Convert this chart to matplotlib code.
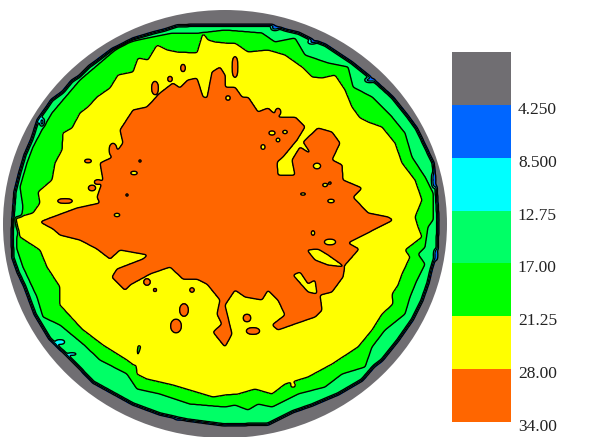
import numpy as np
import matplotlib
matplotlib.use("Agg")
import matplotlib.pyplot as plt
from matplotlib.patches import Ellipse
from matplotlib.path import Path
from matplotlib.transforms import ScaledTranslation

# Contour-level labels and band colours (low to high)
tick_labels = ["4.250", "8.500", "12.75", "17.00", "21.25", "28.00", "34.00"]
band_colors = ["#706e72", "#0066ff", "#00ffff", "#00ff66", "#00ff00", "#ffff00", "#ff6600"]

# Contour boundaries (x, y in image coordinates)
wafer_edge = [(13,218),(15,192),(20,172),(25,155),(32,139),(38,120),(48,106),(52,100),(63,92),(72,81),(80,76),(90,66),
              (97,61),(113,49),(120,46),(133,39),(153,33),(165,30),(177,26),(200,25),(225,25),(272,25),(285,30),(298,33),
              (312,40),(325,45),(340,55),(352,63),(372,79),(392,97),(408,117),(416,128),(422,140),(433,163),(436,187),
              (438,220),(437,250),(431,270),(428,283),(422,300),(412,320),(398,340),(382,360),(374,366),(362,380),
              (338,394),(326,399),(312,405),(292,412),(268,424),(225,425),(187,420),(160,414),(133,404),
              (113,393),(93,382),(73,361),(50,339),(35,314),(25,287),(18,272),(13,258),(12,237)]
green_edge = [(23,207),(20,187),(27,163),(33,147),(42,130),(52,113),(63,100),(80,80),(100,63),(123,43),(153,37),
              (173,33),(200,33),(225,30),(262,33),(275,42),(295,38),(305,55),(328,63),(348,67),(353,87),(372,97),
              (392,117),(405,133),(412,157),(425,177),(433,193),(433,220),(428,227),(425,247),(418,254),(425,264),
              (417,280),(410,297),(405,314),(385,330),(372,347),(365,367),(342,374),(325,387),(298,394),(272,407),
              (258,404),(248,410),(235,405),(225,407),(190,404),(160,394),(137,389),(127,374),(100,360),(83,344),
              (60,325),(43,317),(37,297),(23,267),(17,249),(17,237),(20,227)]
yellow_edge = [(15,218),(33,213),(40,203),(38,192),(52,180),(55,163),(62,150),(63,133),(72,128),(80,113),(88,107),
               (97,97),(110,88),(118,75),(133,72),(138,58),(148,60),(157,45),(167,50),(177,52),(197,53),(203,33),
               (208,40),(215,42),(225,43),(235,43),(248,52),(268,50),(285,55),(302,67),(312,77),(322,78),(335,75),
               (345,90),(352,107),(360,118),(368,122),(382,127),(395,143),(402,163),(415,180),(422,200),(415,217),
               (418,227),(422,237),(405,250),(410,257),(402,274),(398,285),(392,294),(393,304),(382,314),(372,330),
               (358,347),(332,364),(308,377),(285,384),(272,394),(255,389),(238,394),(225,395),(213,397),(173,385),
               (147,379),(137,374),(136,363),(138,345),(141,346),(135,366),(127,360),(103,345),(82,329),(60,305),
               (60,287),(47,267),(40,250),(20,237),(17,227)]
orange_edge = [(50,218),(77,208),(100,203),(97,197),(103,180),(100,163),(113,157),(123,143),(120,130),(133,110),
               (147,107),(160,93),(173,83),(180,88),(188,80),(197,78),(203,97),(207,98),(212,72),(220,67),(225,75),
               (225,87),(235,87),(242,97),(248,97),(258,112),(268,108),(278,117),(295,117),(305,127),(297,140),
               (283,157),(277,162),(278,175),(295,175),(292,160),(300,147),(312,155),(303,142),(318,128),(332,132),
               (340,143),(332,160),(342,165),(343,180),(362,188),(353,197),(368,213),(388,217),(393,220),(348,243),
               (359,249),(345,265),(343,277),(332,292),(320,295),(322,310),(315,317),(292,325),(278,330),(272,325),
               (285,315),(278,300),(268,290),(262,300),(245,297),(235,290),(225,305),(232,334),(225,347),(213,332),
               (222,324),(217,314),(220,300),(207,284),(197,279),(183,279),(170,267),(150,274),(130,285),(125,290),
               (112,277),(117,269),(143,259),(148,255),(120,250),(110,259),(97,249),(80,240),(60,235),(53,229),(40,222)]
yellow_bay_a = [(307,250),(318,249),(328,255),(345,267),(328,265),(315,260)]
yellow_bay_b = [(293,275),(300,272),(308,284),(325,274),(315,280),(317,294),(308,292)]
yellow_bays = [yellow_bay_a, yellow_bay_b]

# Small closed contours: (x, y, half-width, half-height)
orange_spots = [(155,88,3.5,7),(183,68,2.5,4),(170,79,2.5,3),(193,83,4,3),(113,150,4,7),(88,161,4,2),(98,182,4,2.5),
                (92,188,4,3),(65,201,8,2.5),(235,67,3,11),(278,112,3,4),(147,282,3.5,3.5),(155,290,2,2),
                (192,290,2.5,2.5),(184,310,4.5,6.5),(176,326,5.5,7),(247,318,4,4),(253,331,7,3.5)]
yellow_spots = [(117,215,3.5,1.8),(134,173,4,1.8),(140,161,1.8,1.8),(127,195,1.8,1.8),(228,98,2.5,2.5),(272,133,3.5,2.2),
                (285,132,3,1.8),(278,140,2.2,2.2),(263,147,2.2,2.8),(317,166,4,3),(325,185,3,1.8),(330,183,1.8,1.8),
                (303,194,3.5,1.3),(331,201,4,1.8),(313,233,1.8,3),(330,242,6,3),(293,385,2.5,2.5)]
cyan_spots = [(60,342,5,2.5),(72,354,5,1.5)]
blue_spots = [(275,28,4,2),(370,80,5,2),(434,180,2,8),(436,255,2,6),(178,419,4,1),(42,122,2,4),(312,42,4,1.5)]

# Scalar field on a fine grid, built from the contours above
step = 0.5
gx, gy = np.meshgrid(np.arange(0, 592, step), np.arange(0, 437, step))
pts = np.column_stack([gx.ravel(), gy.ravel()])


def inside(poly):
    return Path(poly + [poly[0]]).contains_points(pts).reshape(gx.shape)


def spots(items):
    m = np.zeros(gx.shape, bool)
    for cx, cy, rx, ry in items:
        m |= ((gx - cx) / rx) ** 2 + ((gy - cy) / ry) ** 2 <= 1
    return m


field = np.full(gx.shape, 0.5)
field[inside(wafer_edge)] = 3.5
field[spots(cyan_spots)] = 2.5
field[spots(blue_spots)] = 1.5
field[inside(green_edge) & (field == 3.5)] = 4.5
field[inside(yellow_edge)] = 5.5
field[inside(orange_edge)] = 6.5
for bay in yellow_bays:
    field[inside(bay)] = 5.5
field[spots(yellow_spots)] = 5.5
field[spots(orange_spots)] = 6.5

# Soft smoothing so the contours round off as in the source
fy = np.fft.fftfreq(gx.shape[0], d=step)
fx = np.fft.rfftfreq(gx.shape[1], d=step)
sigma = 1.2
kernel = np.exp(-2 * (np.pi * sigma) ** 2 * (fy[:, None] ** 2 + fx[None, :] ** 2))
field = np.fft.irfft2(np.fft.rfft2(field) * kernel, s=field.shape)

fig = plt.figure(figsize=(5.92, 4.37), dpi=100, facecolor="white")
ax = fig.add_axes([0, 0, 1, 1])
ax.set_xlim(0, 592)
ax.set_ylim(437, 0)
ax.axis("off")
ax.add_patch(Ellipse((225, 224), 444, 428, facecolor=band_colors[0], edgecolor="none", zorder=0))
levels = np.arange(1, 8)
ax.contourf(gx, gy, field, levels=levels, colors=band_colors[1:], zorder=1)
ax.contour(gx, gy, field, levels=levels[:-1], colors="black", linewidths=1.0, zorder=2)

# Colour key: grey at the top, orange at the bottom
cax = fig.add_axes([452 / 592, 1 - 422 / 437, 59 / 592, 370 / 437])
positions = np.arange(len(band_colors))
cax.bar(np.full(len(band_colors), 0.5), np.ones(len(band_colors)), bottom=positions, width=1, color=band_colors)
cax.set_xlim(0, 1)
cax.set_ylim(len(band_colors), 0)
cax.set_xticks([])
for s in cax.spines.values():
    s.set_visible(False)
cax.yaxis.tick_right()
cax.set_yticks(np.arange(1, len(tick_labels) + 1))
cax.set_yticklabels(tick_labels, family="Liberation Serif", fontsize=12.5, color="#222222")
cax.tick_params(axis="y", length=0, pad=5)
off = ScaledTranslation(0, -3 / 100, fig.dpi_scale_trans)
for t in cax.get_yticklabels():
    t.set_transform(t.get_transform() + off)

fig.savefig("out.png", dpi=100)
